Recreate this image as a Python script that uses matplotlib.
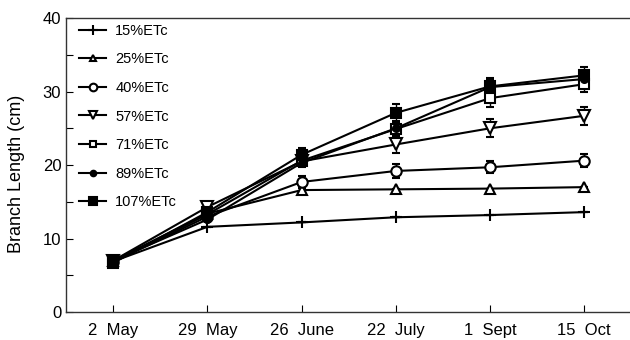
import matplotlib
matplotlib.use("Agg")
import matplotlib.pyplot as plt
from matplotlib.lines import Line2D

dates = ["2  May", "29  May", "26  June", "22  July", "1  Sept", "15  Oct"]
labels = ["15%ETc", "25%ETc", "40%ETc", "57%ETc", "71%ETc", "89%ETc", "107%ETc"]

v15 = [6.9, 11.6, 12.2, 12.9, 13.2, 13.6]
v25 = [7.0, 13.4, 16.6, 16.7, 16.8, 17.0]
v40 = [6.8, 13.0, 17.7, 19.2, 19.7, 20.6]
v57 = [7.0, 14.3, 20.5, 22.8, 25.0, 26.7]
v71 = [6.9, 13.3, 20.6, 24.9, 29.1, 31.0]
v89 = [7.0, 12.6, 20.3, 25.0, 30.6, 31.7]
v107 = [6.7, 13.6, 21.4, 27.1, 30.7, 32.2]

e15 = [0, 0, 0, 0, 0, 0]
e25 = [0, 0, 0.4, 0, 0, 0]
e40 = [0, 0, 0.8, 0.9, 0.8, 0.9]
e57 = [0, 0, 0.5, 1.2, 1.2, 1.2]
e71 = [0, 0, 0.6, 1.0, 1.2, 1.1]
e89 = [0, 0, 0.6, 1.0, 1.0, 1.0]
e107 = [0, 0, 0.9, 1.2, 1.1, 1.1]

series = [v15, v25, v40, v57, v71, v89, v107]
errs = [e15, e25, e40, e57, e71, e89, e107]
markers = ["+", "^", "o", "v", "s", "o", "s"]
filled = [True, False, False, False, False, True, True]
msizes = [9, 7, 7.5, 8, 7, 5, 7]
lmsizes = [7, 5, 5.5, 6, 5, 4, 5.5]

plt.rcParams['font.family'] = ['Liberation Sans', 'DejaVu Sans']

fig = plt.figure(figsize=(6.3, 3.4), dpi=100)
ax = fig.add_axes([0.105, 0.082, 0.897, 0.865])

x = list(range(len(dates)))
handles = []
for vals, err, m, f, ms, lms, lab in zip(series, errs, markers, filled, msizes, lmsizes, labels):
    ax.errorbar(x, vals, yerr=err, color="black", lw=1.5, marker=m, ms=ms,
                mfc="black" if f else "white", mec="black", mew=1.5,
                capsize=3, elinewidth=1.0, capthick=1.0)
    handles.append(Line2D([0], [0], color="black", lw=1.5, marker=m, ms=lms,
                          mfc="black" if f else "white", mec="black", mew=1.5))

ax.set_xlim(-0.5, 5.5)
ax.set_ylim(0, 40)
ax.set_xticks(x)
ax.set_xticklabels(dates, fontsize=12)
ax.set_yticks([0, 10, 20, 30, 40])
ax.set_yticks([5, 15, 25, 35], minor=True)
ax.tick_params(axis="both", direction="in", labelsize=12, length=5, width=0.8)
ax.tick_params(axis="y", which="minor", direction="in", length=5, width=0.8)
ax.tick_params(axis="x", pad=8)
ax.set_ylabel("Branch Length (cm)", fontsize=13)
ax.yaxis.set_label_coords(-0.072, 0.47)
ax.spines["right"].set_visible(False)
for s in ["left", "bottom", "top"]:
    ax.spines[s].set_linewidth(1.0)
    ax.spines[s].set_color("#333333")

leg = ax.legend(handles, labels, loc="upper left", bbox_to_anchor=(0.012, 1.0),
                frameon=False, fontsize=10.5,
                handlelength=1.9, labelspacing=1.0, borderaxespad=0.1,
                handletextpad=0.6, borderpad=0.3)

fig.savefig("out.png", dpi=100)
